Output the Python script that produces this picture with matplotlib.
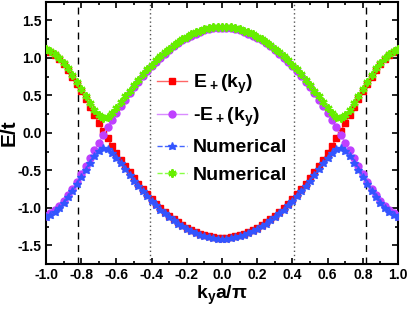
import numpy as np
import matplotlib
matplotlib.use('Agg')
import matplotlib.pyplot as plt
from matplotlib.ticker import MultipleLocator

plt.rcParams['font.family'] = ['Liberation Sans', 'DejaVu Sans']
plt.rcParams['font.weight'] = 'bold'
plt.rcParams['mathtext.fontset'] = 'custom'
plt.rcParams['mathtext.rm'] = 'Liberation Sans:bold'
plt.rcParams['mathtext.bf'] = 'Liberation Sans:bold'
plt.rcParams['mathtext.default'] = 'bf'
plt.rcParams['axes.unicode_minus'] = False

# k_y a / pi sampling for the half band 0..1 (the band is even in k)
k_half = np.linspace(0, 1, 41)

# analytic E_+(k_y)
E_plus_half = [-1.400, -1.398, -1.391, -1.380, -1.365, -1.346, -1.323, -1.296,
               -1.265, -1.231, -1.193, -1.151, -1.105, -1.056, -1.003, -0.946,
               -0.885, -0.821, -0.753, -0.681, -0.605, -0.526, -0.443, -0.356,
               -0.265, -0.171, -0.074, 0.026, 0.130, 0.235, 0.342, 0.448,
               0.552, 0.652, 0.747, 0.835, 0.912, 0.979, 1.032, 1.074, 1.102]

# numerical upper band (green); lower band (blue) is its mirror
num_upper_half = [1.414, 1.412, 1.405, 1.394, 1.380, 1.361, 1.338, 1.311,
                  1.281, 1.247, 1.210, 1.168, 1.123, 1.075, 1.023, 0.967,
                  0.907, 0.845, 0.779, 0.710, 0.637, 0.563, 0.486, 0.408,
                  0.332, 0.263, 0.213, 0.202, 0.239, 0.309, 0.396, 0.491,
                  0.587, 0.682, 0.773, 0.859, 0.934, 0.999, 1.051, 1.093, 1.120]

dashed_k = [-0.82, 0.82]
dotted_k = [-0.41, 0.41]

k = np.concatenate([-k_half[::-1], k_half[1:]])
E_plus = np.array(E_plus_half[::-1] + E_plus_half[1:])
num_up = np.array(num_upper_half[::-1] + num_upper_half[1:])

fig = plt.figure(figsize=(4.09, 3.10), dpi=100)
ax = fig.add_axes([0.1125, 0.148, 0.8605, 0.847])

for xv in dashed_k:
    ax.axvline(xv, color='black', ls=(0, (5, 4)), lw=1.0, zorder=1)
for xv in dotted_k:
    ax.axvline(xv, color='#555555', ls=(0, (1, 2)), lw=1.0, zorder=1)

ax.plot(k, E_plus, color='#ff6666', lw=1, marker='s', ms=4.8, mfc='#ff0000',
        mec='#ff0000', label=r'E$_+$(k$_y$)', zorder=2)
ax.plot(k, -E_plus, color='#d98cff', lw=1, marker='o', ms=5.0, mfc='#bf40ff',
        mec='#bf40ff', label=r'-E$_+$(k$_y$)', zorder=3)
ax.plot(k, -num_up, color='#4466ff', lw=1, ls='--', marker='*', ms=6.2,
        mfc='#3355ff', mec='#3355ff', label='Numerical', zorder=4)
ax.plot(k, num_up, color='#88ff44', lw=1, ls='--', marker=(6, 2, 0), ms=5.8,
        mfc='#66ee00', mec='#66ee00', mew=1.6, label='Numerical', zorder=5)

ax.set_xlim(-1.0, 1.0)
ax.set_ylim(-1.75, 1.75)
ax.xaxis.set_major_locator(MultipleLocator(0.2))
ax.xaxis.set_minor_locator(MultipleLocator(0.1))
ax.yaxis.set_major_locator(MultipleLocator(0.5))
ax.yaxis.set_minor_locator(MultipleLocator(0.25))
ax.set_yticks([-1.5, -1.0, -0.5, 0.0, 0.5, 1.0, 1.5])
ax.tick_params(which='both', direction='in', top=True, right=True, width=1.2)
ax.tick_params(which='major', length=4, labelsize=10, pad=3)
ax.tick_params(which='minor', length=2.5)
for lab in ax.get_xticklabels() + ax.get_yticklabels():
    lab.set_fontweight('bold')
for sp in ax.spines.values():
    sp.set_linewidth(1.5)

ax.set_xlabel(r'k$_y$a/π', fontsize=14, fontweight='bold', labelpad=1)
ax.set_ylabel('E/t', fontsize=15, fontweight='bold')
ax.yaxis.set_label_coords(-0.077, 0.5)

ax.legend(loc='upper left', bbox_to_anchor=(0.266, 0.795), frameon=False,
          prop={'weight': 'bold', 'size': 14}, handlelength=1.55,
          handletextpad=0.3, labelspacing=0.5)

fig.savefig('out.png', dpi=100)
